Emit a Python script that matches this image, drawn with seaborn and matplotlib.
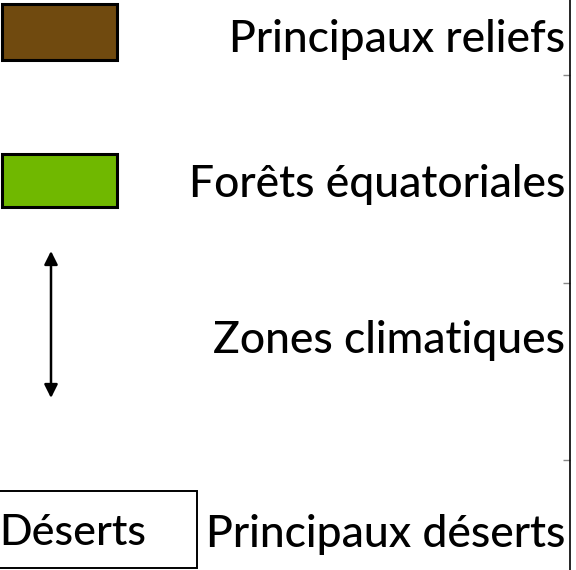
import matplotlib
matplotlib.use("Agg")
import matplotlib.pyplot as plt
from matplotlib.patches import Rectangle, FancyArrowPatch
import seaborn as sns

# legend content
labels = ["Principaux reliefs", "Forêts équatoriales", "Zones climatiques", "Principaux déserts"]
swatch_colors = ["#704a0f", "#70b800"]
desert_label = "Déserts"

sns.set_theme(style="white")
plt.rcParams['font.family'] = ['Lato', 'DejaVu Sans']

fig = plt.figure(figsize=(5.76, 5.70), dpi=100)
ax = fig.add_axes([0, 0, 570 / 576, 1])
ax.set_xlim(0, 570)
ax.set_ylim(570, 0)

# swatches
ax.add_patch(Rectangle((1.5, 3.5), 115, 56, facecolor=swatch_colors[0], edgecolor="black", lw=2.2))
ax.add_patch(Rectangle((1.5, 153.5), 115, 53, facecolor=swatch_colors[1], edgecolor="black", lw=2.2))

# double arrow for climate zones
ax.add_patch(FancyArrowPatch((51, 251), (51, 398), arrowstyle="<|-|>", mutation_scale=20,
                             color="black", lw=1.8, shrinkA=0, shrinkB=0))

# desert box
ax.add_patch(Rectangle((-2, 491), 199, 77, facecolor="white", edgecolor="black", lw=1.4))
ax.text(-1, 545, desert_label, fontsize=31, ha="left", va="baseline", color="black", fontweight="medium")

baselines = [52, 197, 353, 547]
for lab, yb in zip(labels, baselines):
    ax.text(565, yb, lab, fontsize=32, ha="right", va="baseline", color="black", fontweight="medium")

for s in ["top", "left", "bottom"]:
    ax.spines[s].set_visible(False)
ax.spines["right"].set_color("black")
ax.spines["right"].set_linewidth(1.2)
ax.set_xticks([])
ax.yaxis.tick_right()
ax.set_yticks([75, 283, 460])
ax.set_yticklabels([])
ax.tick_params(axis="y", direction="in", length=5, width=1, colors="#888888")

fig.savefig("out.png", dpi=100, facecolor="white")
